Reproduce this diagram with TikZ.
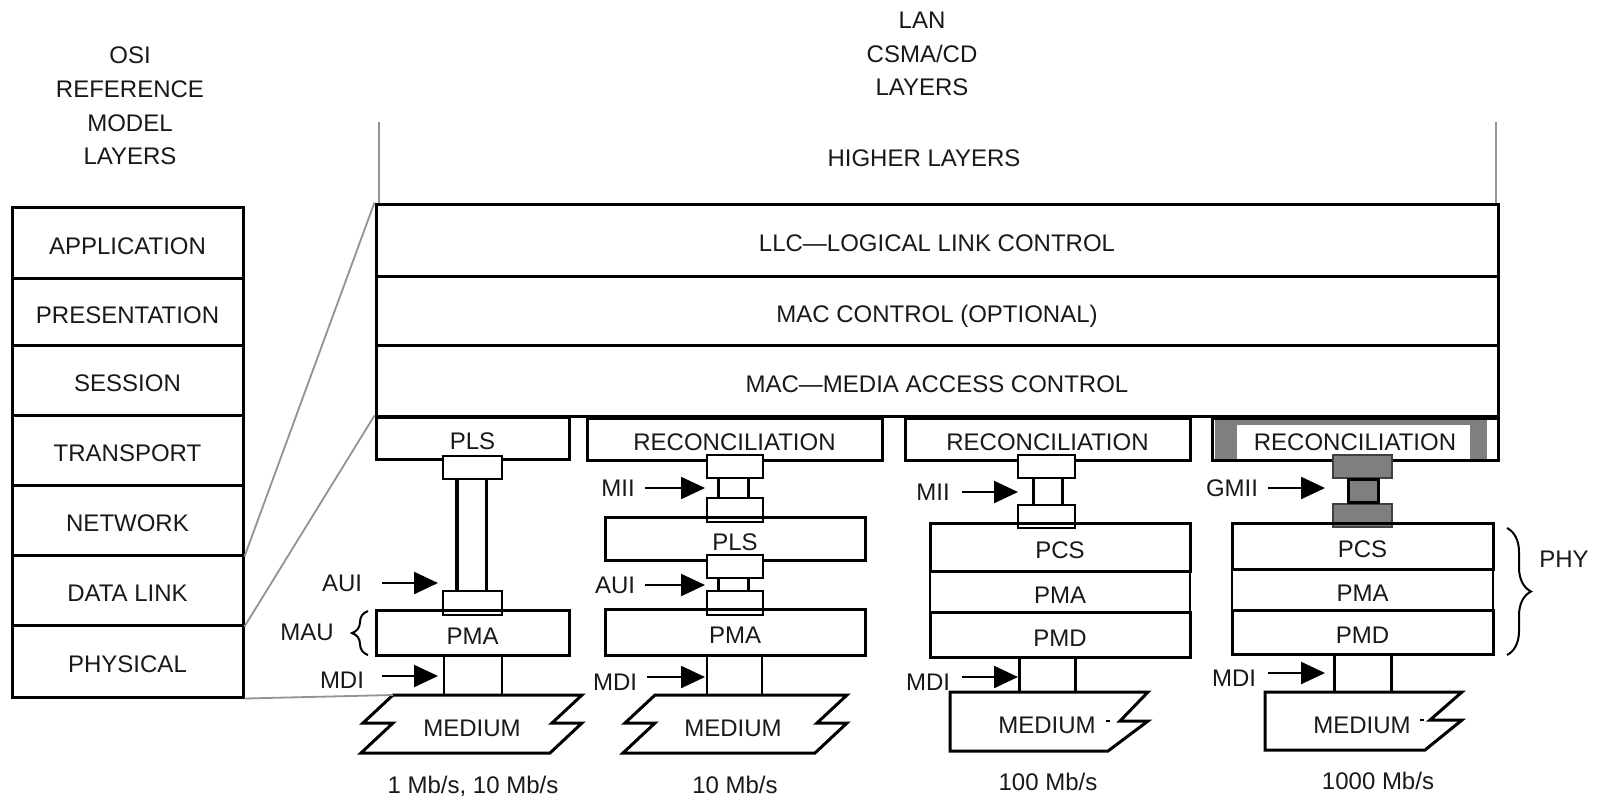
\documentclass[tikz,border=0pt]{standalone}
\usepackage{fontspec}
\setmainfont{Liberation Sans}
\usetikzlibrary{arrows.meta,decorations.pathreplacing,calc}
\newcommand\lab{\fontsize{12}{16.8}\selectfont}
\definecolor{gfour}{HTML}{7F7F7F}
\newcommand\mybox[7][]{%
  \pgfmathsetmacro\mbw{(#5-#3)/2}%
  \pgfmathsetmacro\mbh{(#6-#4)/2}%
  \node[box,minimum width=\mbw pt,minimum height=\mbh pt,#1] (#2) at ({(#3+#5)/2},{(#4+#6)/2}) {#7};}
\begin{document}
\begin{tikzpicture}[x=0.5pt,y=-0.5pt,
  box/.style={draw,line width=1.5pt,inner sep=0pt,font=\lab,text=black!90,text height=11.8pt,text depth=0pt},
  capbox/.style={line width=1pt,fill=white},
  gcapbox/.style={line width=1pt,fill=gfour,draw=black!75},
  lbl/.style={inner sep=0pt,font=\lab,text=black!90,text height=8.6pt,text depth=0pt},
  pipe/.style={line width=1.5pt},
  thinpipe/.style={line width=1pt},
  med/.style={line width=1.5pt,line join=miter},
  gl/.style={draw=gray!85,line width=0.9pt},
  arr/.style={line width=1.2pt,-{Triangle[length=12pt,width=11pt]}},
  brc/.style={decorate,line width=1pt}]
\useasboundingbox (0,0) rectangle (1601,800);
\fill[white] (0,0) rectangle (1601,800);

% titles
\node[lbl,align=center,text height=,text depth=] (osititle) at (130,106) {OSI\\REFERENCE\\MODEL\\LAYERS};
\node[lbl,align=center,text height=,text depth=] (lantitle) at (922,54) {LAN\\CSMA/CD\\LAYERS};
\node[lbl] (higher) at (924,158) {HIGHER LAYERS};

% OSI stack
\mybox{app}{12}{207}{243}{278}{APPLICATION}
\mybox{pres}{12}{278}{243}{345}{PRESENTATION}
\mybox{sess}{12}{345}{243}{415}{SESSION}
\mybox{trans}{12}{415}{243}{485}{TRANSPORT}
\mybox{net}{12}{485}{243}{555}{NETWORK}
\mybox{dl}{12}{555}{243}{625}{DATA LINK}
\mybox{phys}{12}{625}{243}{697}{PHYSICAL}

% LAN stack
\mybox{llc}{376}{204}{1498}{276}{LLC—LOGICAL LINK CONTROL}
\mybox{macc}{376}{276}{1498}{345}{MAC CONTROL (OPTIONAL)}
\mybox{mac}{376}{345}{1498}{416}{MAC—MEDIA ACCESS CONTROL}
\coordinate (hl) at (379,122);
\coordinate (hr) at (1496,122);
\draw[gl] (hl) -- (hl |- llc.north);
\draw[gl] (hr) -- (hr |- llc.north);

% column 1
\mybox{pls1}{376}{417}{569}{459}{PLS}
\mybox[capbox]{c1a}{443}{460}{502}{475}{}
\mybox[capbox]{c1b}{443}{597}{502}{609}{}
\draw[pipe,line width=2pt] (457,0 |- c1a.south) -- (457,0 |- c1b.north);
\draw[pipe] (486,0 |- c1a.south) -- (486,0 |- c1b.north);
\mybox{pma1}{376}{610}{569}{655}{PMA}
\coordinate (m1tl) at (393,695);
\draw[pipe,line width=1.2pt] (444,0 |- pma1.south) -- (444,0 |- m1tl);
\draw[pipe,line width=1.2pt] (502,0 |- pma1.south) -- (502,0 |- m1tl);
\draw[med] (m1tl) -- (582,695) -- ++(-30,28) -- ++(30,0) -- ++(-32,30) -- (361,753) -- ++(32,-30) -- ++(-30,0) -- cycle;
\node[lbl] (med1) at (472,728) {MEDIUM};
\node[lbl] (sp1) at (473,785) {1 Mb/s, 10 Mb/s};
\node[lbl] (aui1) at (342,583) {AUI};
\coordinate (aui1t) at (438,583);
\draw[arr] ($(aui1.center)+(40,0)$) -- (aui1t);
\node[lbl] (mdi1) at (342,680) {MDI};
\coordinate (mdi1t) at (438,676);
\draw[arr] ($(mdi1.center)+(40,-4)$) -- (mdi1t);
\node[lbl] (mau) at (307,632) {MAU};
\draw[brc,decoration={brace,amplitude=8pt}] (368,655) -- (368,611);

% column 2
\mybox{rec2}{587}{418}{882}{460}{RECONCILIATION}
\mybox[capbox]{c2a}{707}{460}{763}{473}{}
\mybox[capbox]{c2b}{707}{503}{763}{517}{}
\draw[pipe] (718,0 |- c2a.south) -- (718,0 |- c2b.north);
\draw[pipe] (748,0 |- c2a.south) -- (748,0 |- c2b.north);
\mybox{pls2}{605}{517}{865}{560}{PLS}
\mybox[capbox]{c2c}{707}{560}{763}{573}{}
\mybox[capbox]{c2d}{707}{597}{763}{609}{}
\draw[pipe] (718,0 |- c2c.south) -- (718,0 |- c2d.north);
\draw[pipe] (748,0 |- c2c.south) -- (748,0 |- c2d.north);
\mybox{pma2}{605}{609}{865}{655}{PMA}
\coordinate (m2tl) at (655,695);
\draw[pipe,line width=1.2pt] (707,0 |- pma2.south) -- (707,0 |- m2tl);
\draw[thinpipe] (762,0 |- pma2.south) -- (762,0 |- m2tl);
\draw[med] (m2tl) -- (847,695) -- ++(-30,28) -- ++(30,0) -- ++(-32,30) -- (623,753) -- ++(32,-30) -- ++(-30,0) -- cycle;
\node[lbl] (med2) at (733,728) {MEDIUM};
\node[lbl] (sp2) at (735,785) {10 Mb/s};
\node[lbl] (mii2) at (618,488) {MII};
\coordinate (mii2t) at (705,488);
\draw[arr] ($(mii2.center)+(27,0)$) -- (mii2t);
\node[lbl] (aui2) at (615,585) {AUI};
\coordinate (aui2t) at (705,585);
\draw[arr] ($(aui2.center)+(30,0)$) -- (aui2t);
\node[lbl] (mdi2) at (615,682) {MDI};
\coordinate (mdi2t) at (705,677);
\draw[arr] ($(mdi2.center)+(32,-5)$) -- (mdi2t);

% column 3
\mybox{rec3}{905}{418}{1190}{460}{RECONCILIATION}
\mybox[capbox]{c3a}{1018}{460}{1075}{473}{}
\mybox[capbox]{c3b}{1018}{510}{1075}{523}{}
\draw[pipe] (1033,0 |- c3a.south) -- (1033,0 |- c3b.north);
\draw[pipe] (1062,0 |- c3a.south) -- (1062,0 |- c3b.north);
\mybox{pcs3}{930}{523}{1190}{571}{PCS}
\mybox[line width=1.2pt]{pma3}{930}{571}{1190}{612}{PMA}
\mybox{pmd3}{930}{612}{1190}{657}{PMD}
\coordinate (m3tl) at (950,692);
\draw[pipe] (1019,0 |- pmd3.south) -- (1019,0 |- m3tl);
\draw[pipe] (1075,0 |- pmd3.south) -- (1075,0 |- m3tl);
\draw[med] (m3tl) -- (1148,692) -- (1120,721) -- (1148,721) -- (1108,751) -- (950,751) -- cycle;
\draw[line width=1.4pt] (1106,721) -- (1110,721);
\node[lbl] (med3) at (1047,725) {MEDIUM};
\node[lbl] (sp3) at (1048,782) {100 Mb/s};
\node[lbl] (mii3) at (933,492) {MII};
\coordinate (mii3t) at (1018,492);
\draw[arr] ($(mii3.center)+(29,0)$) -- (mii3t);
\node[lbl] (mdi3) at (928,682) {MDI};
\coordinate (mdi3t) at (1018,677);
\draw[arr] ($(mdi3.center)+(34,-5)$) -- (mdi3t);

% column 4
\fill[gfour] (1215,420) rectangle (1487,459);
\fill[white] (1237,425) rectangle (1470,459);
\mybox{rec4}{1212}{418}{1498}{460}{RECONCILIATION}
\mybox[gcapbox]{c4a}{1333}{460}{1392}{473}{}
\mybox[gcapbox]{c4b}{1333}{508}{1392}{523}{}
\filldraw[fill=gfour,draw=black,line width=1.5pt] (1348,0 |- c4a.south) rectangle (1378,0 |- c4b.north);
\mybox{pcs4}{1232}{523}{1493}{569}{PCS}
\mybox[line width=1.2pt]{pma4}{1232}{569}{1493}{610}{PMA}
\mybox{pmd4}{1232}{610}{1493}{654}{PMD}
\coordinate (m4tl) at (1265,692);
\draw[pipe] (1334,0 |- pmd4.south) -- (1334,0 |- m4tl);
\draw[pipe] (1391,0 |- pmd4.south) -- (1391,0 |- m4tl);
\draw[med] (m4tl) -- (1462,692) -- (1430,720) -- (1462,720) -- (1425,750) -- (1265,750) -- cycle;
\draw[line width=1.4pt] (1420,720) -- (1424,720);
\node[lbl] (med4) at (1362,725) {MEDIUM};
\node[lbl] (sp4) at (1378,781) {1000 Mb/s};
\node[lbl] (gmii4) at (1232,488) {GMII};
\coordinate (gmii4t) at (1325,488);
\draw[arr] ($(gmii4.center)+(36,0)$) -- (gmii4t);
\node[lbl] (mdi4) at (1234,678) {MDI};
\coordinate (mdi4t) at (1325,673);
\draw[arr] ($(mdi4.center)+(34,-5)$) -- (mdi4t);
\node[lbl] (phy) at (1564,559) {PHY};
\draw[brc,decoration={brace,amplitude=12pt}] (1507,528) -- (1507,655);

% OSI to LAN mapping lines
\draw[gl] (net.south east) -- (llc.north west);
\draw[gl] (dl.south east) -- (pls1.north west);
\draw[gl] (phys.south east) -- (m1tl);
\end{tikzpicture}
\end{document}
